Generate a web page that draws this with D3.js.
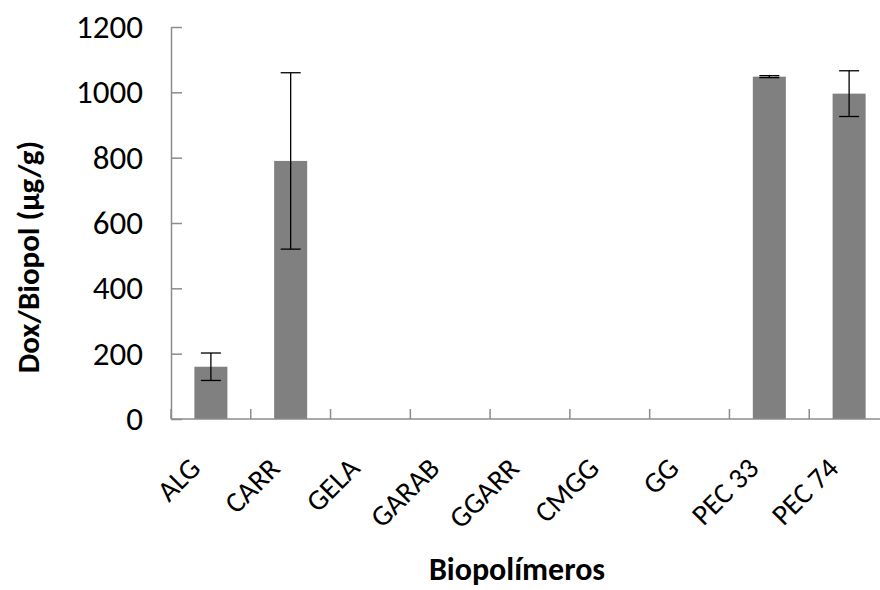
<!DOCTYPE html>
<html>
<head>
<meta charset="utf-8">
<script src="https://cdn.jsdelivr.net/npm/d3@7"></script>
<style>
  body { margin: 0; background: #fff; }
  text { font-family: Carlito, Lato, sans-serif; fill: #000; }
</style>
</head>
<body>
<div id="chart"></div>
<script>
// data
var categories = ["ALG", "CARR", "GELA", "GARAB", "GGARR", "CMGG", "GG", "PEC 33", "PEC 74"];
var means = [160, 790, 0, 0, 0, 0, 0, 1048, 996];
var errors = [42, 270, 0, 0, 0, 0, 0, 3, 70];
var yTicks = [0, 200, 400, 600, 800, 1000, 1200];

var width = 880, height = 590;
var margin = {left: 171, right: 889, top: 27, bottom: 419};

var svg = d3.select("#chart")
  .append("svg")
    .attr("width", width)
    .attr("height", height);

// X scale (plot runs a little past the right edge, as in the picture)
var x = d3.scaleBand()
  .domain(categories)
  .range([margin.left, margin.right])
  .paddingInner(0.586)
  .paddingOuter(0.293);

var y = d3.scaleLinear()
  .domain([0, 1200])
  .range([margin.bottom, margin.top]);

// bars
svg.selectAll("rect.bar")
  .data(categories)
  .enter()
  .append("rect")
    .attr("class", "bar")
    .attr("x", function(d) { return x(d); })
    .attr("y", function(d, i) { return y(means[i]); })
    .attr("width", x.bandwidth())
    .attr("height", function(d, i) { return margin.bottom - y(means[i]); })
    .attr("fill", "#808080");

// error bars
function idx(d) { return categories.indexOf(d); }
function cx(d) { return x(d) + x.bandwidth() / 2; }
function hi(d) { return y(means[idx(d)] + errors[idx(d)]); }
function lo(d) { return y(means[idx(d)] - errors[idx(d)]); }

var eb = svg.selectAll("g.err")
  .data(categories.filter(function(d, i) { return means[i] > 0; }))
  .enter()
  .append("g")
    .attr("class", "err")
    .attr("stroke", "#000")
    .attr("stroke-width", 1.3);

eb.append("line")
  .attr("x1", cx).attr("x2", cx)
  .attr("y1", hi).attr("y2", lo);
eb.append("line")
  .attr("x1", function(d) { return cx(d) - 10; }).attr("x2", function(d) { return cx(d) + 10; })
  .attr("y1", hi).attr("y2", hi);
eb.append("line")
  .attr("x1", function(d) { return cx(d) - 10; }).attr("x2", function(d) { return cx(d) + 10; })
  .attr("y1", lo).attr("y2", lo);

// Y axis
var yAxis = svg.append("g")
  .attr("transform", "translate(" + margin.left + ",0)")
  .call(d3.axisLeft(y).tickValues(yTicks).tickFormat(d3.format("d"))
    .tickSizeInner(-11).tickSizeOuter(0).tickPadding(28));
yAxis.selectAll("line, path").attr("stroke", "#8c8c8c").attr("stroke-width", 1.5);
yAxis.selectAll("text").style("font-size", "33px").attr("fill", "#000")
  .style("font-family", "Carlito, Lato, sans-serif");

// X axis line and category boundary ticks
var bounds = categories.map(function(d) { return x(d) - x.step() * x.paddingInner() / 2; });
bounds.push(margin.right);
svg.append("line")
  .attr("x1", margin.left).attr("x2", margin.right)
  .attr("y1", margin.bottom).attr("y2", margin.bottom)
  .attr("stroke", "#8c8c8c").attr("stroke-width", 1.5);
svg.selectAll("line.xtick")
  .data(bounds)
  .enter()
  .append("line")
    .attr("class", "xtick")
    .attr("x1", function(d) { return d; }).attr("x2", function(d) { return d; })
    .attr("y1", margin.bottom).attr("y2", margin.bottom - 10)
    .attr("stroke", "#8c8c8c").attr("stroke-width", 1.5);

// category labels, rotated
svg.selectAll("text.cat")
  .data(categories)
  .enter()
  .append("text")
    .attr("class", "cat")
    .attr("text-anchor", "end")
    .attr("transform", function(d) { return "translate(" + (cx(d) - 9) + ",470) rotate(-45)"; })
    .style("font-size", "29px")
    .text(function(d) { return d; });

// axis titles
svg.append("text")
  .attr("text-anchor", "middle")
  .attr("transform", "translate(39,257) rotate(-90)")
  .style("font-size", "31px")
  .style("font-weight", "bold")
  .text("Dox/Biopol (µg/g)");

svg.append("text")
  .attr("x", 517)
  .attr("y", 580)
  .attr("text-anchor", "middle")
  .style("font-size", "32px")
  .style("font-weight", "bold")
  .text("Biopolímeros");
</script>
</body>
</html>
